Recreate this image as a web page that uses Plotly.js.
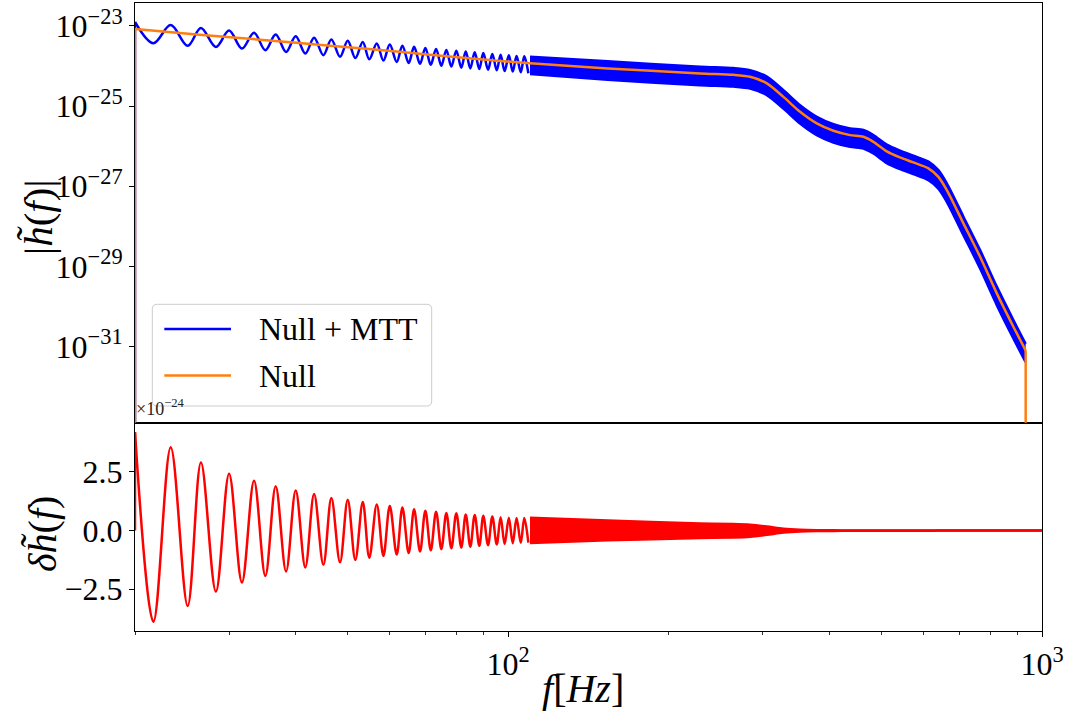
<!DOCTYPE html>
<html><head><meta charset="utf-8">
<script src="https://cdn.plot.ly/plotly-3.0.1.min.js"></script>
<style>html,body{margin:0;padding:0;background:#fff}#chart{width:1067px;height:713px}</style>
</head><body><div id="chart"></div>
<script>
// |h~(f)| of the Null waveform (orange curve)
const nullFreq = [20, 26.1, 34.74, 46.39, 61.84, 82.33, 109.9, 153.6, 228.8, 264.1, 283.9, 305.2, 327.8, 352.2, 378.5, 406.7, 437.0, 462.8, 483.2, 511.9, 542.1, 574.1, 612.6, 639.6, 663.3, 712.6, 765.7, 822.9, 883.9, 932];
const nullAmp = [8.32e-24, 6.11e-24, 4.45e-24, 3.21e-24, 2.28e-24, 1.61e-24, 1.16e-24, 8.67e-25, 6.50e-25, 6.00e-25, 5.35e-25, 3.66e-25, 1.69e-25, 7.16e-26, 3.68e-26, 2.41e-26, 1.88e-26, 1.71e-26, 1.28e-26, 7.41e-27, 5.22e-27, 3.92e-27, 2.78e-27, 1.71e-27, 8.0e-28, 1.18e-28, 1.73e-29, 2.12e-30, 3.12e-31, 7.94e-32];
// relative size of the MTT oscillation envelope around Null (above / below)
const mttRelUp = [0.50, 0.48, 0.48, 0.45, 0.45, 0.46, 0.47, 0.50, 0.47, 0.47, 0.47, 0.48, 0.47, 0.47, 0.47, 0.47, 0.47, 0.47, 0.47, 0.47, 0.47, 0.47, 0.47, 0.47, 0.47, 0.47, 0.47, 0.47, 0.47, 0.47];
const mttRelLo = [0.51, 0.45, 0.45, 0.43, 0.44, 0.45, 0.46, 0.48, 0.49, 0.49, 0.49, 0.49, 0.49, 0.49, 0.49, 0.49, 0.49, 0.49, 0.49, 0.49, 0.49, 0.49, 0.49, 0.49, 0.49, 0.49, 0.49, 0.49, 0.49, 0.49];
// delta h~(f) maxima and minima in the resolved part (units of 1e-24)
const dhPeakFreq = [20.0, 23.33, 26.58, 30.01, 33.42, 36.69, 40.0, 43.3, 46.65, 50.06, 53.42, 56.74, 60.02, 63.37, 66.65, 69.97, 73.28, 76.6, 79.97, 83.28, 86.57, 89.84, 93.4, 96.8, 100.3, 103.7, 107.2];
const dhPeakVal = [4.19, 3.55, 2.90, 2.42, 2.13, 1.89, 1.71, 1.56, 1.39, 1.32, 1.22, 1.11, 1.05, 0.98, 0.91, 0.85, 0.80, 0.75, 0.74, 0.69, 0.67, 0.63, 0.60, 0.57, 0.55, 0.54, 0.54];
const dhTroughFreq = [21.65, 25.1, 28.35, 31.72, 35.09, 38.37, 41.69, 45.07, 48.42, 51.73, 54.94, 58.39, 61.84, 65.12, 68.38, 71.62, 74.97, 78.27, 81.7, 84.94, 88.3, 91.7, 95.2, 98.5, 102.0, 105.6, 109.1];
const dhTroughVal = [-3.89, -3.21, -2.60, -2.21, -1.93, -1.74, -1.57, -1.46, -1.35, -1.25, -1.16, -1.08, -1.02, -0.96, -0.89, -0.84, -0.79, -0.75, -0.72, -0.69, -0.65, -0.62, -0.59, -0.57, -0.54, -0.52, -0.51];
const dhUnit = 1e-24;
const fEnd = 1000;          // last frequency sample (delta h = 0 there)
const floorAmp = 1e-40;     // |h| outside the signal (drawn off the log axis)
const xTickVals = [100, 1000];
const xTickText = ['10<sup>2</sup>', '10<sup>3</sup>'];
const xMinorVals = [20, 30, 40, 50, 60, 70, 80, 90, 200, 300, 400, 500, 600, 700, 800, 900];
const hTickVals = [1e-23, 1e-25, 1e-27, 1e-29, 1e-31];
const hTickText = ['10<sup>\u221223</sup>', '10<sup>\u221225</sup>', '10<sup>\u221227</sup>', '10<sup>\u221229</sup>', '10<sup>\u221231</sup>'];
const dTickVals = [-2.5, 0, 2.5];
const dTickText = ['\u22122.5', '0.0', '2.5'];

const BLUE = '#0000ff', ORANGE = '#ff7f0e', RED = '#ff0000';
const LW = 2.5;

function nullAt(f) {
  const lf = Math.log10(f);
  for (let i = 0; i < nullFreq.length - 1; i++) {
    const a = Math.log10(nullFreq[i]), b = Math.log10(nullFreq[i + 1]);
    if (lf >= a && lf <= b) {
      const t = (lf - a) / (b - a);
      return Math.pow(10, Math.log10(nullAmp[i]) * (1 - t) + Math.log10(nullAmp[i + 1]) * t);
    }
  }
  return nullAmp[nullAmp.length - 1];
}

const ext = dhPeakFreq.map((f, i) => [f, dhPeakVal[i]])
  .concat(dhTroughFreq.map((f, i) => [f, dhTroughVal[i]]))
  .sort((a, b) => a[0] - b[0]);
const extF = ext.map(e => e[0]);
const extV = ext.map(e => e[1]);
const lastResolved = extF[extF.length - 1];

const bandIdx = nullFreq.map((f, i) => i).filter(i => nullFreq[i] > lastResolved);
const bandF = bandIdx.map(i => nullFreq[i]);
const blueUp = bandIdx.map(i => nullAmp[i] * (1 + mttRelUp[i]));
const blueLo = bandIdx.map(i => nullAmp[i] * (1 - mttRelLo[i]));
const redUp = bandIdx.map(i => mttRelUp[i] * nullAmp[i] / dhUnit).concat([0]);
const redLo = bandIdx.map(i => -mttRelLo[i] * nullAmp[i] / dhUnit).concat([0]);
const redBandF = bandF.concat([fEnd]);

const blueRes = extF.map((f, i) => nullAt(f) + extV[i] * dhUnit);

const onTop = {xaxis: 'x2', yaxis: 'y2', hoverinfo: 'skip', showlegend: false, mode: 'lines'};
const onBot = {xaxis: 'x', yaxis: 'y', hoverinfo: 'skip', showlegend: false, mode: 'lines'};

const traces = [
  // Null + MTT (top)
  Object.assign({x: [extF[0], extF[0]], y: [floorAmp, blueRes[0]], line: {color: BLUE, width: LW}}, onTop),
  Object.assign({x: extF, y: blueRes, line: {color: BLUE, width: LW, shape: 'spline', smoothing: 1}}, onTop),
  Object.assign({x: bandF, y: blueLo, line: {color: BLUE, width: LW, shape: 'spline', smoothing: 0.8}}, onTop),
  Object.assign({x: bandF, y: blueUp, fill: 'tonexty', fillcolor: BLUE, line: {color: BLUE, width: LW, shape: 'spline', smoothing: 0.8}}, onTop),
  // Null (top)
  Object.assign({x: [nullFreq[0], nullFreq[0]], y: [floorAmp, nullAmp[0]], line: {color: ORANGE, width: LW}}, onTop),
  Object.assign({x: nullFreq, y: nullAmp, line: {color: ORANGE, width: LW, shape: 'spline', smoothing: 0.8}}, onTop),
  Object.assign({x: [nullFreq[nullFreq.length - 1], nullFreq[nullFreq.length - 1]], y: [nullAmp[nullAmp.length - 1], floorAmp], line: {color: ORANGE, width: LW}}, onTop),
  // delta h (bottom)
  Object.assign({x: [extF[0], extF[0]], y: [0, extV[0]], line: {color: RED, width: LW}}, onBot),
  Object.assign({x: extF, y: extV, line: {color: RED, width: LW, shape: 'spline', smoothing: 1}}, onBot),
  Object.assign({x: redBandF, y: redLo, line: {color: RED, width: LW, shape: 'spline', smoothing: 0.8}}, onBot),
  Object.assign({x: redBandF, y: redUp, fill: 'tonexty', fillcolor: RED, line: {color: RED, width: LW, shape: 'spline', smoothing: 0.8}}, onBot)
];

// geometry helpers (paper coords)
const ML = 135, MR = 25, MT = 3, MB = 82, FW = 1067, FH = 713;
const pw = FW - ML - MR, ph = FH - MT - MB;
const px = v => (v - ML) / pw;
const py = v => (FH - MB - v) / ph;
const split = py(422.7);

function roundRect(x0, y0, x1, y1, r) {
  const X0 = px(x0), X1 = px(x1), Y0 = py(y1), Y1 = py(y0);
  const rx = r / pw, ry = r / ph;
  return `M${X0 + rx},${Y0} L${X1 - rx},${Y0} Q${X1},${Y0} ${X1},${Y0 + ry} L${X1},${Y1 - ry} Q${X1},${Y1} ${X1 - rx},${Y1} L${X0 + rx},${Y1} Q${X0},${Y1} ${X0},${Y1 - ry} L${X0},${Y0 + ry} Q${X0},${Y0} ${X0 + rx},${Y0} Z`;
}

const axCommon = {showline: true, linecolor: 'black', linewidth: 1, mirror: true, showgrid: false, zeroline: false,
  ticks: 'outside', ticklen: 5, tickwidth: 1, tickcolor: 'black', tickfont: {family: 'Liberation Serif', size: 32, color: 'black'}};

const layout = {
  width: FW, height: FH,
  margin: {l: ML, r: MR, t: MT, b: MB, pad: 0},
  paper_bgcolor: 'white', plot_bgcolor: 'white',
  showlegend: false,
  font: {family: 'Liberation Serif', size: 32, color: 'black'},
  xaxis: Object.assign({}, axCommon, {type: 'log', range: [Math.log10(20), 3], anchor: 'y', domain: [0, 1],
    tickvals: xTickVals, ticktext: xTickText,
    minor: {tickvals: xMinorVals, ticks: 'outside', ticklen: 3, tickwidth: 0.8, tickcolor: 'black', showgrid: false}}),
  yaxis: Object.assign({}, axCommon, {domain: [0, split], anchor: 'x', range: [-4.28, 4.60],
    tickvals: dTickVals, ticktext: dTickText}),
  xaxis2: Object.assign({}, axCommon, {type: 'log', matches: 'x', anchor: 'y2', showticklabels: false, ticks: ''}),
  yaxis2: Object.assign({}, axCommon, {type: 'log', domain: [split, 1], anchor: 'x2', range: [-32.9, -22.43],
    tickvals: hTickVals, ticktext: hTickText}),
  shapes: [
    {type: 'path', xref: 'paper', yref: 'paper', path: roundRect(152.3, 304.3, 431.7, 406, 5),
      fillcolor: 'rgba(255,255,255,0.8)', line: {color: '#cccccc', width: 1}, layer: 'above'},
    {type: 'line', xref: 'paper', yref: 'paper', x0: px(164.3), x1: px(231), y0: py(329), y1: py(329), line: {color: BLUE, width: LW}},
    {type: 'line', xref: 'paper', yref: 'paper', x0: px(164.3), x1: px(231), y0: py(375.5), y1: py(375.5), line: {color: ORANGE, width: LW}}
  ],
  annotations: [
    {xref: 'paper', yref: 'paper', x: px(256.7), y: py(329), xanchor: 'left', yanchor: 'middle', showarrow: false,
      text: 'Null + MTT', font: {family: 'Liberation Serif', size: 32, color: 'black'}},
    {xref: 'paper', yref: 'paper', x: px(256.7), y: py(375.5), xanchor: 'left', yanchor: 'middle', showarrow: false,
      text: 'Null', font: {family: 'Liberation Serif', size: 32, color: 'black'}},
    {xref: 'paper', yref: 'paper', x: px(134), y: py(421), xanchor: 'left', yanchor: 'bottom', showarrow: false,
      text: '\u00d710<sup>\u221224</sup>', font: {family: 'Liberation Serif', size: 18, color: '#222'}},
    {xref: 'paper', yref: 'paper', x: px(38), y: py(217), xanchor: 'center', yanchor: 'middle', showarrow: false, textangle: -90,
      text: '|<i>h\u0303</i>(<i>f</i>)|', font: {family: 'Liberation Serif', size: 41, color: 'black'}},
    {xref: 'paper', yref: 'paper', x: px(42), y: py(534), xanchor: 'center', yanchor: 'middle', showarrow: false, textangle: -90,
      text: '<i>\u03b4h\u0303</i>(<i>f</i>)', font: {family: 'Liberation Serif', size: 40, color: 'black'}},
    {xref: 'paper', yref: 'paper', x: px(583), y: py(688), xanchor: 'center', yanchor: 'middle', showarrow: false,
      text: '<i>f</i>[<i>Hz</i>]', font: {family: 'Liberation Serif', size: 40, color: 'black'}}
  ]
};

Plotly.newPlot('chart', traces, layout, {staticPlot: true, displayModeBar: false});
</script>
</body></html>
